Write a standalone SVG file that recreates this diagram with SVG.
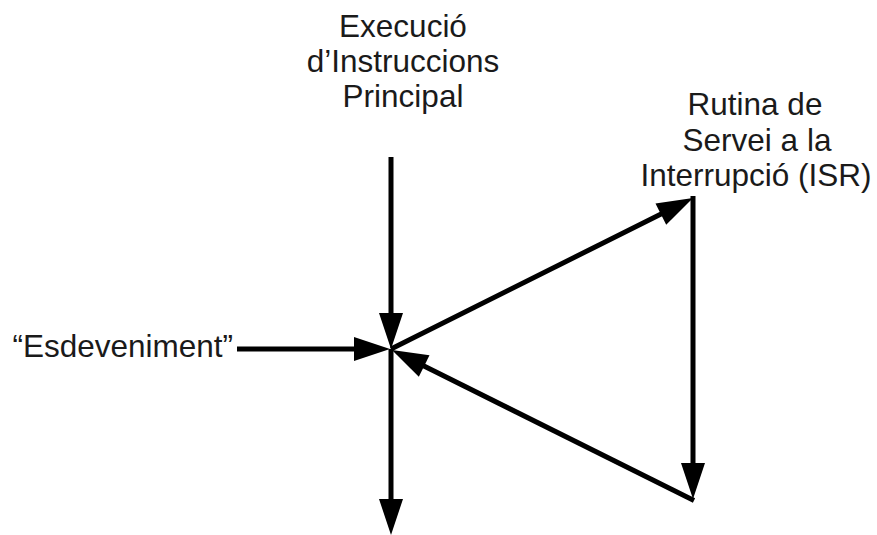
<svg xmlns="http://www.w3.org/2000/svg" width="877" height="535" viewBox="0 0 877 535">
  <style>
    .lbl { font-family: "Liberation Sans", Arial, sans-serif; font-size: 31.5px; fill: #1a1a1a; }
    .mid { text-anchor: middle; }
    .end { text-anchor: end; }
    .edge { stroke: #000; stroke-width: 5; fill: none; stroke-linecap: butt; }
  </style>
  <defs>
    <marker id="head" markerUnits="userSpaceOnUse" markerWidth="36" markerHeight="24" refX="26" refY="12" orient="auto" overflow="visible">
      <path d="M0,0 L36,12 L0,24 Z" fill="#000"/>
    </marker>
  </defs>
  <rect width="877" height="535" fill="#fff"/>

  <g id="main-flow">
    <text class="lbl mid" x="403" y="37">Execució</text>
    <text class="lbl mid" x="403" y="72">d’Instruccions</text>
    <text class="lbl mid" x="403" y="107">Principal</text>
  </g>

  <g id="isr">
    <text class="lbl mid" x="755" y="115">Rutina de</text>
    <text class="lbl mid" x="757" y="151">Servei a la</text>
    <text class="lbl mid" x="756" y="186">Interrupció (ISR)</text>
  </g>

  <g id="event">
    <text class="lbl end" x="233" y="357">“Esdeveniment”</text>
  </g>

  <g id="connectors">
    <line class="edge" x1="391" y1="157" x2="391" y2="339" marker-end="url(#head)"/>
    <line class="edge" x1="391" y1="349" x2="391" y2="525" marker-end="url(#head)"/>
    <line class="edge" x1="237" y1="349" x2="380" y2="349" marker-end="url(#head)"/>
    <line class="edge" x1="391" y1="349" x2="684.1" y2="202.5" marker-end="url(#head)"/>
    <line class="edge" x1="693" y1="196" x2="693" y2="489" marker-end="url(#head)"/>
    <line class="edge" x1="694" y1="500.5" x2="400.9" y2="354.5" marker-end="url(#head)"/>
  </g>
</svg>
